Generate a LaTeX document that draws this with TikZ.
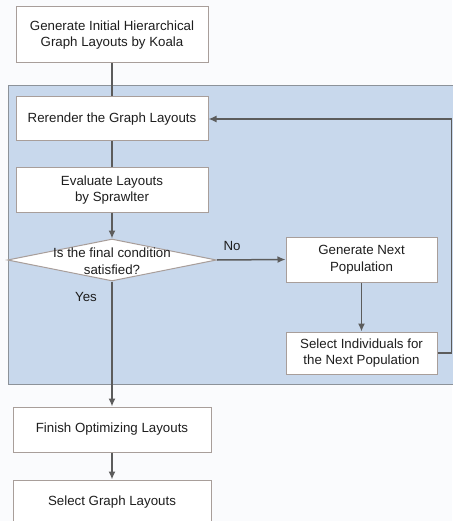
\documentclass[tikz,border=0pt]{standalone}
\usepackage{fontspec}
\setmainfont{Liberation Sans}
\usetikzlibrary{arrows.meta,shapes.geometric}
\definecolor{bgc}{HTML}{FAFBFD}
\definecolor{blueregion}{HTML}{C8D8EC}
\definecolor{regionborder}{HTML}{8C9299}
\definecolor{boxborder}{HTML}{A89E9A}
\definecolor{linec}{HTML}{5C5C5C}
\definecolor{textc}{HTML}{1E1E1E}
\tikzset{
  box/.style={draw=boxborder, line width=1pt, fill=white, inner sep=0pt, align=center,
    text=textc, font=\fontsize{13.3}{16.5}\selectfont},
  conn/.style={draw=linec, line width=1.5pt},
  arr/.style={conn, -{Latex[length=8pt,width=7pt]}},
  lbl/.style={text=textc, font=\fontsize{13.3}{16.5}\selectfont, inner sep=0pt}
}
\begin{document}
\begin{tikzpicture}[x=1pt,y=-1pt]
\useasboundingbox (0,0) rectangle (452,521);
\fill[bgc] (0,0) rectangle (452,521);
\filldraw[fill=blueregion, draw=regionborder, line width=1pt] (8,86) rectangle (470,384);

\node[box, minimum width=192pt, minimum height=56pt] (b1) at (112,35) {Generate Initial Hierarchical\\Graph Layouts by Koala};
\node[box, minimum width=192pt, minimum height=44pt] (rer) at (112,119) {Rerender the Graph Layouts};
\node[box, minimum width=192pt, minimum height=44pt] (eva) at (112,190) {Evaluate Layouts\\by Sprawlter};
\node[diamond, draw=boxborder, line width=1pt, fill=white, inner sep=0pt, minimum width=209pt, minimum height=42pt] (dia) at (112,260) {};
\node[lbl, align=center] (diatext) at (112,261) {Is the final condition\\satisfied?};
\node[box, minimum width=151pt, minimum height=45pt] (gnp) at (361.5,259.5) {Generate Next\\Population};
\node[box, minimum width=151pt, minimum height=42pt] (sel) at (361.5,353) {Select Individuals for\\the Next Population};
\node[box, minimum width=198pt, minimum height=45pt] (fin) at (112,429.5) {Finish Optimizing Layouts};
\node[box, minimum width=198pt, minimum height=45pt] (sgl) at (112,502.5) {Select Graph Layouts};

\draw[conn] (b1.south) -- (rer.north);
\draw[conn] (rer.south) -- (eva.north);
\draw[arr] (eva.south) -- (dia.north);
\draw[arr] (dia.east) -- (gnp.west);
\node[lbl] (no) at (232,246) {No};
\draw[arr] (gnp.south) -- (sel.north);
\draw[arr] (sel.east) -- ++(14,0) |- (rer.east);
\draw[arr] (dia.south) -- (fin.north);
\node[lbl] (yes) at (86,297) {Yes};
\draw[arr] (fin.south) -- (sgl.north);
\end{tikzpicture}
\end{document}
